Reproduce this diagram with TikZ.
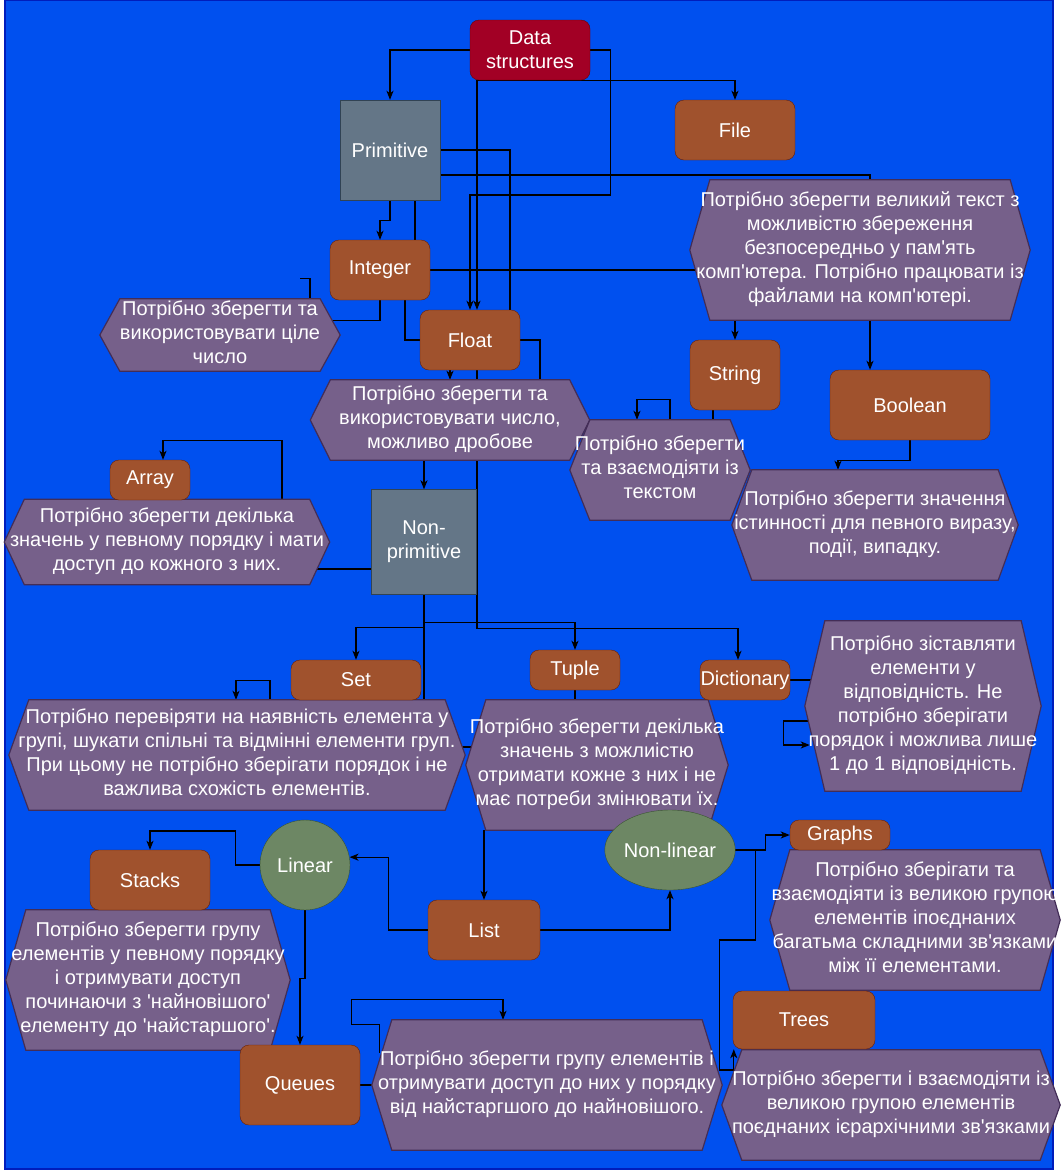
\documentclass[tikz,border=0pt]{standalone}
\usepackage{fontspec}
\setmainfont{Liberation Sans}
\usetikzlibrary{arrows.meta,
                shapes.geometric}
\definecolor{bgblue}{HTML}{0050EF}
\definecolor{bgline}{HTML}{001DBC}
\definecolor{rootfill}{HTML}{A20025}
\definecolor{rootline}{HTML}{6F0000}
\definecolor{kindfill}{HTML}{647687}
\definecolor{kindline}{HTML}{314354}
\definecolor{typefill}{HTML}{A0522D}
\definecolor{typeline}{HTML}{6D1F00}
\definecolor{notefill}{HTML}{76608A}
\definecolor{noteline}{HTML}{432D57}
\definecolor{grpfill}{HTML}{6D8764}
\definecolor{grpline}{HTML}{3A5431}
\newcommand\ap{\textquotesingle}
\newcommand\hx[1]{\makebox[0pt]{\begin{tabular}{@{}c@{}}#1\end{tabular}}}
\pgfdeclarelayer{bg}
\pgfdeclarelayer{edges}
\pgfdeclarelayer{hexes}
\pgfsetlayers{bg,edges,hexes,main}
\tikzset{every node/.style={font=\fontsize{20}{24}\selectfont, text=white, inner sep=0pt, align=center},
         rootbox/.style={draw=rootline, fill=rootfill, rounded corners=9pt},
         kindbox/.style={draw=kindline, fill=kindfill},
         typebox/.style={draw=typeline, fill=typefill, rounded corners=9pt},
         grpbox/.style={draw=grpline, fill=grpfill},
         note/.style={},
         hexshape/.style={draw=noteline, fill=notefill, line width=1.2pt},
         link/.style={draw=black, line width=1.3pt},
         flow/.style={link, -{Stealth[length=9pt, width=7pt, inset=2.5pt]}}}

\begin{document}
\begin{tikzpicture}[x=1pt, y=-1pt]
 \useasboundingbox (0,0) rectangle (1061,1171);
 \begin{pgfonlayer}{bg}
  \filldraw[fill=bgblue, draw=bgline, line width=1.5pt] (5,0) rectangle (1053,1169);
 \end{pgfonlayer}

 % top level
 \node[rootbox, minimum width=120, minimum height=60] (ds) at (530,50) {Data\\structures};
 \node[kindbox, minimum width=100, minimum height=100] (prim) at (390,150) {Primitive};
 \node[typebox, minimum width=120, minimum height=60] (file) at (735,130) {File};
 \node[note, minimum width=300, minimum height=140] (fhex) at (860,250)
   {\hx{Потрібно зберегти великий текст з\\можливістю збереження\\безпосередньо у пам\ap ять\\комп\ap ютера. Потрібно працювати із\\файлами на комп\ap ютері.}};

 % primitive types
 \node[typebox, minimum width=100, minimum height=60] (int) at (380,270) {Integer};
 \node[note, minimum width=200, minimum height=70] (ihex) at (220,335)
   {\hx{Потрібно зберегти та\\використовувати ціле\\число}};
 \node[typebox, minimum width=100, minimum height=60] (float) at (470,340) {Float};
 \node[note, minimum width=239, minimum height=80] (flhex) at (450,420)
   {\hx{Потрібно зберегти та\\використовувати число,\\можливо дробове}};
 \node[typebox, minimum width=90, minimum height=70] (str) at (735,375) {String};
 \node[note, minimum width=140, minimum height=100] (shex) at (660,470)
   {\hx{Потрібно зберегти\\та взаємодіяти із\\текстом}};
 \node[typebox, minimum width=160, minimum height=70] (bool) at (910,405) {Boolean};
 \node[note, minimum width=246, minimum height=110] (bhex) at (875,525)
   {\hx{Потрібно зберегти значення\\істинності для певного виразу,\\події, випадку.}};

 % non-primitive types
 \node[typebox, minimum width=80, minimum height=40] (arr) at (150,480) {Array};
 \node[note, minimum width=285, minimum height=85] (ahex) at (167,542)
   {\hx{Потрібно зберегти декілька\\значень у певному порядку і мати\\доступ до кожного з них.}};
 \node[kindbox, minimum width=105, minimum height=105] (np) at (424,542) {Non-\\primitive};
 \node[typebox, minimum width=130, minimum height=40] (set) at (356,680) {Set};
 \node[note, minimum width=416, minimum height=110] (sethex) at (237,755)
   {\hx{Потрібно перевіряти на наявність елемента у\\групі, шукати спільні та відмінні елементи груп.\\При цьому не потрібно зберігати порядок і не\\важлива схожість елементів.}};
 \node[typebox, minimum width=90, minimum height=40] (tup) at (575,670) {Tuple};
 \node[note, minimum width=222, minimum height=130] (thex) at (597,765)
   {\hx{Потрібно зберегти декілька\\значень з можлиістю\\отримати кожне з них і не\\має потреби змінювати їх.}};
 \node[typebox, minimum width=90, minimum height=40] (dict) at (745,680) {Dictionary};
 \node[note, minimum width=196, minimum height=170] (dhex) at (923,706)
   {\hx{Потрібно зіставляти\\елементи у\\відповідність. Не\\потрібно зберігати\\порядок і можлива лише\\1 до 1 відповідність.}};

 % list and its kinds
 \node[grpbox, circle, minimum size=90] (lin) at (305,865) {Linear};
 \node[grpbox, ellipse, minimum width=120, minimum height=80] (nlin) at (670,850) {Non-linear};
 \node[typebox, minimum width=112, minimum height=60] (list) at (484,930) {List};
 \node[typebox, minimum width=120, minimum height=60] (stk) at (150,880) {Stacks};
 \node[note, minimum width=244, minimum height=140] (skhex) at (148,980)
   {\hx{Потрібно зберегти групу\\елементів у певному порядку\\і отримувати доступ\\починаючи з \ap найновішого\ap\\елементу до \ap найстаршого\ap .}};
 \node[typebox, minimum width=120, minimum height=80] (que) at (300,1085) {Queues};
 \node[note, minimum width=310, minimum height=130] (qhex) at (547,1085)
   {\hx{Потрібно зберегти групу елементів і\\отримувати доступ до них у порядку\\від найстаргшого до найновішого.}};
 \node[typebox, minimum width=100, minimum height=30] (gra) at (840,835) {Graphs};
 \node[note, minimum width=250, minimum height=140] (ghex) at (915,920)
   {\hx{Потрібно зберігати та\\взаємодіяти із великою групою\\елементів іпоєднаних\\багатьма складними зв\ap язками\\між її елементами.}};
 \node[typebox, minimum width=142, minimum height=58] (tree) at (804,1020) {Trees};
 \node[note, minimum width=298, minimum height=110] (trhex) at (891,1105)
   {\hx{Потрібно зберегти і взаємодіяти із\\великою групою елементів\\поєднаних ієрархічними зв\ap язками}};

 \begin{pgfonlayer}{hexes}
  \foreach \h in {fhex,ihex,flhex,shex,bhex,ahex,sethex,thex,dhex,skhex,qhex,ghex,trhex}
   \filldraw[hexshape] (\h.north west) -- (\h.north east) -- ([xshift=20]\h.east)
     -- (\h.south east) -- (\h.south west) -- ([xshift=-20]\h.west) -- cycle;
 \end{pgfonlayer}

 \begin{pgfonlayer}{edges}
  % from the root
  \draw[flow] (ds.west) -| (prim.north);
  \draw[flow] (ds.east) -- ++(20,0) -- ++(0,145) -| (float.north);
  \draw[flow] ([xshift=-53]ds.south) -- ([xshift=7]float.north);
  \draw[flow] ([xshift=-53]ds.south) -| (file.north);
  % primitive
  \draw[link] (prim.east) -| ([xshift=40]float.north);
  \draw[flow] ([yshift=-25]prim.east) -| ([xshift=-40]bool.north);
  \draw[flow] (prim.south) -- ++(0,20) -| (int.north);
  \draw[link] ([xshift=25]prim.south) -- ([xshift=35]int.north);
  \draw[link] ([xshift=25]int.south) |- (float.west);
  \draw[link] (int.east) -- ++(280,0);
  \draw[link] (int.south) -- ++(0,20) -- ++(-60,0);
  \draw[link] ([xshift=90]ihex.north) -- ++(0,-20) -- ++(-10,0);
  \draw[flow] (float.south -| flhex.north) -- (flhex.north);
  \draw[flow] ([xshift=7]float.south) -- ++(0,258) -| ([xshift=-7]dict.north);
  \draw[link] (float.east) -| ([xshift=90]flhex.north);
  \draw[flow] (str.north |- fhex.south) -- (str.north);
  \draw[flow] ([xshift=10]shex.north) -- ++(0,-20) -| ([xshift=-23]shex.north);
  \draw[link] ([xshift=-22]str.south) -- ++(0,10);
  \draw[flow] (bool.south) -- ++(0,20) -| ([xshift=-37]bhex.north);
  % non-primitive
  \draw[flow] (np.north |- flhex.south) -- (np.north);
  \draw[flow] ([xshift=115]ahex.north) -- ++(0,-59) -| ([xshift=13]arr.north);
  \draw[link] ([yshift=-27]np.west) -- ++(-60,0);
  \draw[flow] (np.south) -- ++(0,33) -| (set.north);
  \draw[flow] (np.south) -- ++(0,28) -| (tup.north);
  \draw[link] (np.south) -- (np.south |- sethex.north);
  \draw[flow] ([xshift=33]sethex.north) -- ++(0,-19) -| ([xshift=-1]sethex.north);
  \draw[link] ([yshift=8]sethex.east) -- ++(45,0);
  \draw[link] (tup.south) -- ++(0,10);
  \draw[flow] (list.north |- thex.south) -- (list.north);
  \draw[link] (dict.east) -- ++(25,0);
  \draw[flow] ([yshift=-15]dhex.west) -- ++(-41,0) -- ++(0,24) -- ++(26,0);
  % list
  \draw[flow] (lin.west) -- ++(-24,0) -- ++(0,-34) -| (stk.north);
  \draw[flow] (lin.south) -- ++(0,68) -| (que.north);
  \draw[flow] (list.west) -- ++(-39,0) |- (lin.10);
  \draw[flow] (list.east) -| (nlin.south);
  \draw[flow] (nlin.east) -- ++(30,0) |- (gra.west);
  \draw[flow] (nlin.east) -- ++(20,0) -- ++(0,90) -- ++(-36,0) -- ++(0,130) -| ([xshift=1]tree.south west);
  \draw[link] (que.east) -- ++(15,0);
  \draw[flow] ([xshift=-12]qhex.north west) ++(0,33) -- ++(0,-28) -- ++(-28,0) -- ++(0,-25) -| ([xshift=-44]qhex.north);
 \end{pgfonlayer}
\end{tikzpicture}
\end{document}
